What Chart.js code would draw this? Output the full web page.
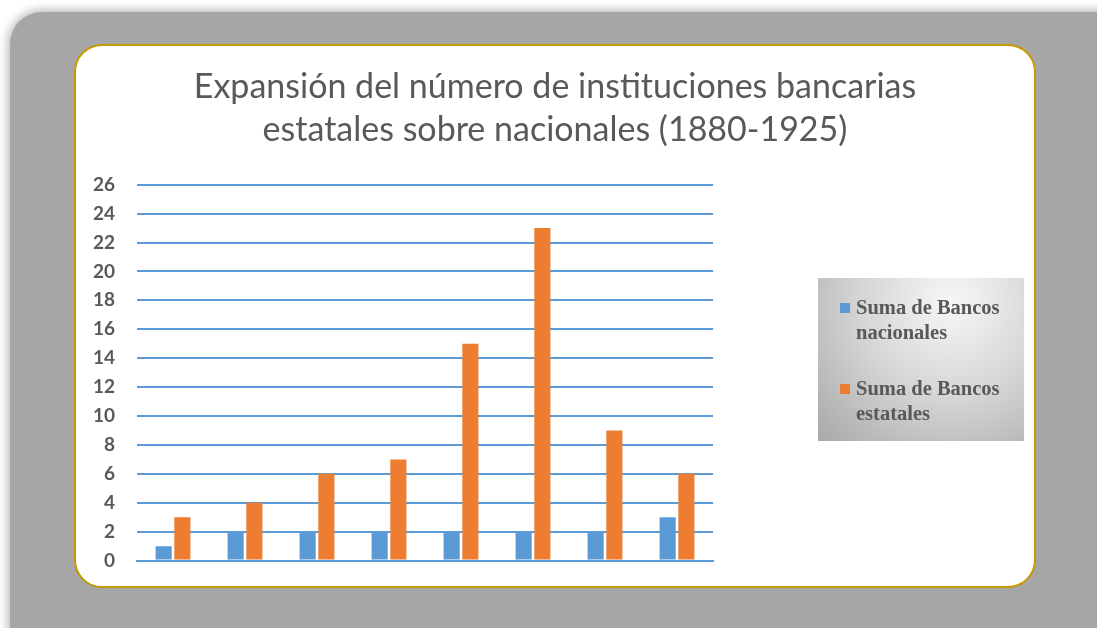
<!DOCTYPE html>
<html>
<head>
<meta charset="utf-8">
<script src="https://cdn.jsdelivr.net/npm/chart.js@4/dist/chart.umd.min.js"></script>
<style>
  body { margin: 0; background: #fff; width: 1097px; height: 628px; overflow: hidden; position: relative; }
  .fondo {
    position: absolute; left: 10px; top: 12px; width: 1120px; height: 650px;
    background: #a6a6a6; border-radius: 32px;
    box-shadow: 0 0 8px 3px rgba(150,150,150,0.6);
  }
  .tarjeta {
    position: absolute; left: 74px; top: 44px; width: 958px; height: 540px;
    background: #fff; border: 2px solid #c49a00; border-radius: 28px;
  }
  .grafico { position: absolute; left: 76px; top: 46px; width: 958px; height: 548px; }
  .leyenda {
    position: absolute; left: 818px; top: 278px; width: 206px; height: 163px;
    background: radial-gradient(ellipse at 65% 15%, #f7f7f7 0%, #d4d4d4 50%, #a8a8a8 100%);
  }
  .item {
    position: absolute; left: 22px; font: bold 20.5px "Liberation Serif", serif;
    color: #595959; line-height: 25px; white-space: nowrap;
  }
  .item span.cuadro {
    position: absolute; left: 0; top: 8px; width: 10px; height: 10px;
  }
  .item span.texto { display: block; padding-left: 16px; }
</style>
</head>
<body>
<div class="fondo"></div>
<div class="tarjeta"></div>
<div class="grafico"><canvas id="myChart"></canvas></div>
<div class="leyenda" id="leyenda"></div>
<script>
const categorias = ["1880", "1887", "1894", "1901", "1908", "1915", "1920", "1925"];
const bancosNacionales = [1, 2, 2, 2, 2, 2, 2, 3];
const bancosEstatales = [3, 4, 6, 7, 15, 23, 9, 6];
const etiquetasSerie = [["Suma de Bancos", "nacionales"], ["Suma de Bancos", "estatales"]];
const colores = ["#5b9bd5", "#ed7d31"];

const chart = new Chart("myChart", {
  type: "bar",
  data: {
    labels: categorias,
    datasets: [{
      label: etiquetasSerie[0].join(" "),
      data: bancosNacionales,
      backgroundColor: colores[0],
      categoryPercentage: 0.52,
      barPercentage: 0.86
    }, {
      label: etiquetasSerie[1].join(" "),
      data: bancosEstatales,
      backgroundColor: colores[1],
      categoryPercentage: 0.52,
      barPercentage: 0.86
    }]
  },
  options: {
    responsive: true,
    maintainAspectRatio: false,
    animation: false,
    layout: { padding: { left: 0, right: 0, top: 0, bottom: 10 } },
    scales: {
      x: {
        ticks: { display: false },
        grid: { display: false },
        border: { color: "#5b9bd5", width: 2 }
      },
      y: {
        min: 0,
        max: 26,
        afterFit: function(scale) { scale.width = 61; },
        ticks: {
          stepSize: 2,
          padding: 22,
          color: "#595959",
          font: { family: "Lato", size: 19, weight: "bold" }
        },
        grid: { color: "#5b9bd5", lineWidth: 2, drawTicks: false },
        border: { display: false }
      },
      // eje vacio a la derecha, deja sitio a la leyenda
      hueco: {
        type: "linear",
        position: "right",
        display: true,
        afterFit: function(scale) { scale.width = 321; },
        ticks: { display: false },
        grid: { display: false },
        border: { display: false }
      }
    },
    plugins: {
      legend: { display: false },
      tooltip: { enabled: false },
      title: {
        display: true,
        text: ["Expansión del número de instituciones bancarias", "estatales sobre nacionales (1880-1925)"],
        color: "#595959",
        font: { family: "Lato", size: 34, weight: "normal", lineHeight: 1.26 },
        padding: { top: 20, bottom: 33 }
      }
    }
  }
});

// leyenda a mano, para que el texto pase a dos lineas
const leyenda = document.getElementById("leyenda");
const posiciones = [17, 98];
for (let i = 0; i < etiquetasSerie.length; i++) {
  const item = document.createElement("div");
  item.className = "item";
  item.style.top = posiciones[i] + "px";
  item.innerHTML = '<span class="cuadro" style="background:' + colores[i] + '"></span>' +
    '<span class="texto">' + etiquetasSerie[i].join("<br>") + '</span>';
  leyenda.appendChild(item);
}
</script>
</body>
</html>
